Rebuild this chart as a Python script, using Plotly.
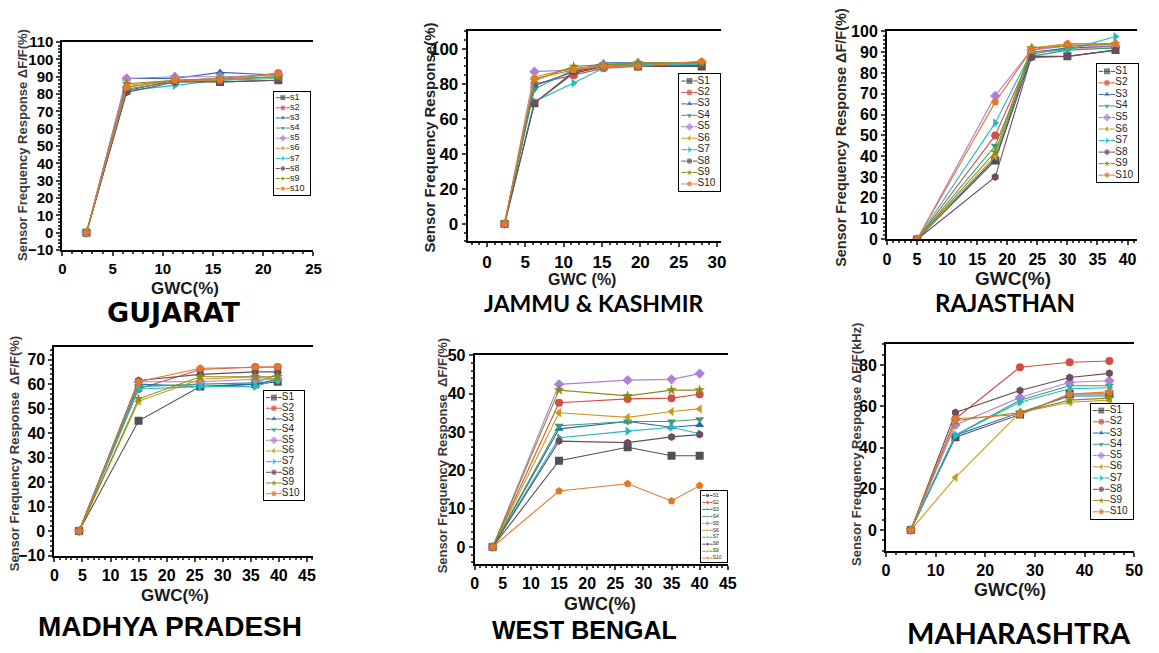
import plotly.graph_objects as go

W, H = 1159, 653

# ---------------------------------------------------------------- data
names_lower = ["s1", "s2", "s3", "s4", "s5", "s6", "s7", "s8", "s9", "s10"]
names_upper = ["S1", "S2", "S3", "S4", "S5", "S6", "S7", "S8", "S9", "S10"]

# Gujarat
guj_gwc = [2.4, 6.4, 11.2, 15.7, 21.5]
guj_resp = [
    [0, 82, 88, 87, 88],
    [0, 84, 88, 89, 92],
    [0, 89, 89, 92.5, 91],
    [0, 83, 87, 88, 90],
    [0, 89, 90, 90, 91],
    [0, 85, 88, 89, 90],
    [0, 82, 85, 88, 89],
    [0, 81, 87, 87, 88],
    [0, 86, 88, 89, 90],
    [0, 84, 88, 88, 92],
]

# Jammu & Kashmir
jk_gwc = [2.3, 6.2, 11.3, 15.2, 19.7, 28.0]
jk_resp = [
    [0, 69, 86, 90, 90, 90],
    [0, 80, 85, 89, 90, 92],
    [0, 79, 87, 92, 92, 91],
    [0, 77, 88, 91, 91, 91],
    [0, 87, 88, 91, 92, 92],
    [0, 84, 89, 90, 91, 92],
    [0, 70, 80.5, 89, 91, 91],
    [0, 69, 87, 90, 90, 90.5],
    [0, 82, 90, 91, 92, 92],
    [0, 83, 88, 90, 90, 93],
]

# Rajasthan
raj_gwc = [5, 18, 24, 30, 38]
raj_resp = [
    [0, 38, 88, 88, 91],
    [0, 50, 89, 92, 92],
    [0, 39, 90, 92, 93],
    [0, 45, 88, 91, 92],
    [0, 69, 91, 93, 93],
    [0, 40, 92, 94, 94],
    [0, 56, 90, 91, 97.5],
    [0, 30, 87.5, 88, 91],
    [0, 42, 92, 93, 94],
    [0, 66, 91, 94, 94],
]

# Madhya Pradesh
mp_gwc = [4.4, 15, 26, 35.8, 39.8]
mp_resp = [
    [0, 45, 59, 60, 61],
    [0, 58, 66, 67, 67],
    [0, 60, 59, 60, 62],
    [0, 59, 60, 60.5, 64],
    [0, 61, 61, 62, 62],
    [0, 53, 62, 63, 62],
    [0, 58, 59, 59, 62],
    [0, 61.5, 64, 65, 65],
    [0, 54, 63, 63, 63],
    [0, 61, 66.5, 67, 67],
]

# West Bengal
wb_gwc = [3.2, 15, 27.2, 35, 40]
wb_resp = [
    [0, 22.5, 26, 23.8, 23.8],
    [0, 37.6, 38.6, 38.8, 39.8],
    [0, 30.8, 32.7, 31.2, 31.8],
    [0, 31.6, 32.7, 32.7, 33.3],
    [0, 42.4, 43.5, 43.7, 45.2],
    [0, 35, 33.8, 35.3, 36],
    [0, 28.5, 30.2, 31.2, 29.5],
    [0, 27.6, 27.2, 28.7, 29.3],
    [0, 40.9, 39.4, 40.9, 40.9],
    [0, 14.6, 16.5, 12, 16],
]

# Maharashtra
mah_gwc = [5, 14, 27, 37, 45]
mah_resp = [
    [0, 45, 56, 66, 66],
    [0, 54, 79, 81.4, 82],
    [0, 46, 57, 65, 65],
    [0, 46, 63, 70, 70],
    [0, 51, 64.3, 71.7, 72.4],
    [0, 25.5, 57, 62, 63],
    [0, 46, 62, 68.5, 69],
    [0, 57, 67.7, 74, 76],
    [0, 53, 57, 63, 64],
    [0, 54, 56, 66, 67],
]

# ---------------------------------------------------------------- styles
colors = ["#505050", "#d24f47", "#2a66a8", "#3a9c74", "#b07fd6",
          "#c89b1c", "#22b9c2", "#6b4d5e", "#8c8c14", "#e2792a"]
symbols = ["square", "circle", "triangle-up", "triangle-down", "diamond",
           "triangle-left", "triangle-right", "hexagon", "star", "pentagon"]

SANS = "Liberation Sans"


def px_x(p):
    return p / W


def px_y(p):
    return 1 - p / H


panels = [
    dict(gwc=guj_gwc, resp=guj_resp, names=names_lower,
         box=(59, 313, 34, 248), xr=[0, 25], xd=5, yr=[-10, 110], yd=10, y0=-10,
         tick=15, leg=(273, 309, 85, 191), legfont=9, legmark=6,
         ytitle="Sensor Frequency Response \u0394F/F(%)", ytpos=(18, 140), ytsize=13,
         ytcolor="#3c3c3c",
         xtitle="GWC(%)", xtpos=(183, 287), xtsize=17,
         name="GUJARAT", npos=(172, 312), nfont="DejaVu Sans", nsize=27),
    dict(gwc=jk_gwc, resp=jk_resp, names=names_upper,
         box=(469, 725, 23, 239), xr=[-2.5, 30.5], xd=5, yr=[-10, 110], yd=20, y0=0,
         tick=17, leg=(683, 724, 67, 187), legfont=10, legmark=7,
         ytitle="Sensor Frequency Response(%)", ytpos=(430, 132), ytsize=15,
         ytcolor="#222222",
         xtitle="GWC (%)", xtpos=(585, 278), xtsize=16,
         name="JAMMU &amp; KASHMIR", npos=(597, 302), nfont="Lato", nsize=23),
    dict(gwc=raj_gwc, resp=raj_resp, names=names_upper,
         box=(893, 1146, 23, 237), xr=[0, 41.6], xd=5, yr=[0, 100], yd=10, y0=0,
         tick=16, leg=(1105, 1147, 57, 178), legfont=10, legmark=7,
         ytitle="Sensor Frequency Response \u0394F/F(%)", ytpos=(847, 132), ytsize=14.5,
         ytcolor="#2a2a2a",
         xtitle="GWC(%)", xtpos=(1020, 277), xtsize=19,
         name="RAJASTHAN", npos=(1012, 302), nfont="Lato", nsize=24),
    dict(gwc=mp_gwc, resp=mp_resp, names=names_upper,
         box=(51, 312, 348, 562), xr=[0, 46], xd=5, yr=[-10, 75], yd=10, y0=-10,
         tick=16, leg=(263, 303, 393, 505), legfont=10, legmark=7,
         ytitle="Sensor Frequency Response  \u0394F/F(%)", ytpos=(11, 457), ytsize=13,
         ytcolor="#3c3c3c",
         xtitle="GWC(%)", xtpos=(173, 603), xtsize=17,
         name="MADHYA PRADESH", npos=(168, 635), nfont=SANS, nsize=28),
    dict(gwc=wb_gwc, resp=wb_resp, names=names_upper,
         box=(476, 732, 356, 571), xr=[0, 45], xd=5, yr=[-4.5, 50], yd=10, y0=0,
         tick=16, leg=(705, 731, 496, 569), legfont=5, legmark=4,
         ytitle="Sensor Frequency Response  \u0394F/F(%)", ytpos=(443, 460), ytsize=13,
         ytcolor="#3c3c3c",
         xtitle="GWC(%)", xtpos=(603, 612), xtsize=18,
         name="WEST BENGAL", npos=(587, 639), nfont=SANS, nsize=25),
    dict(gwc=mah_gwc, resp=mah_resp, names=names_upper,
         box=(892, 1143, 345, 557), xr=[0, 50], xd=10, yr=[-10, 90], yd=20, y0=0,
         tick=16, leg=(1099, 1142, 406, 524), legfont=10, legmark=7,
         ytitle="Sensor Frequency Response \u0394F/F(kHz)", ytpos=(862, 448), ytsize=13,
         ytcolor="#3c3c3c",
         xtitle="GWC(%)", xtpos=(1017, 597), xtsize=18,
         name="MAHARASHTRA", npos=(1027, 641), nfont="Lato", nsize=29),
]

fig = go.Figure()
layout = dict(
    width=W, height=H, margin=dict(l=0, r=0, t=0, b=0),
    paper_bgcolor="white", plot_bgcolor="white", showlegend=False,
)
annotations = []

for k, p in enumerate(panels, start=1):
    h = k + 6
    x0, x1, y0, y1 = p["box"]
    sfx = "" if k == 1 else str(k)

    # data series
    for i, vals in enumerate(p["resp"]):
        fig.add_trace(go.Scatter(
            x=p["gwc"], y=vals, mode="lines+markers",
            line=dict(color=colors[i], width=1.1),
            marker=dict(symbol=symbols[i], size=8, color=colors[i]),
            xaxis=f"x{sfx}", yaxis=f"y{sfx}", name=p["names"][i],
        ))

    tickfont = dict(family=SANS, size=p["tick"], color="black", weight="bold")
    layout[f"xaxis{sfx}"] = dict(
        domain=[px_x(x0), px_x(x1)], range=p["xr"], anchor=f"y{sfx}",
        tick0=0, dtick=p["xd"], ticks="outside", ticklen=4, tickwidth=1.5,
        showline=True, linecolor="black", linewidth=2, mirror=True,
        showgrid=False, zeroline=False, tickfont=tickfont,
        minor=dict(ticks="outside", ticklen=2, showgrid=False),
    )
    layout[f"yaxis{sfx}"] = dict(
        domain=[px_y(y1), px_y(y0)], range=p["yr"], anchor=f"x{sfx}",
        tick0=p["y0"], dtick=p["yd"], ticks="outside", ticklen=4, tickwidth=1.5,
        showline=True, linecolor="black", linewidth=2, mirror=False,
        showgrid=False, zeroline=False, tickfont=tickfont,
        minor=dict(ticks="outside", ticklen=2, showgrid=False),
    )

    # boxed series key
    lx0, lx1, ly0, ly1 = p["leg"]
    for i in range(len(p["resp"])):
        fig.add_trace(go.Scatter(
            x=[0.05, 0.25, 0.45], y=[i + 1] * 3, mode="lines+markers+text",
            line=dict(color=colors[i], width=1),
            marker=dict(symbol=symbols[i], size=[0, p["legmark"], 0],
                        color=colors[i]),
            text=["", "", p["names"][i]], textposition="middle right",
            textfont=dict(family=SANS, size=p["legfont"], color="#222222"),
            xaxis=f"x{h}", yaxis=f"y{h}", hoverinfo="skip",
        ))
    layout[f"xaxis{h}"] = dict(
        domain=[px_x(lx0), px_x(lx1)], range=[0, 1], anchor=f"y{h}",
        showline=True, mirror=True, linecolor="black", linewidth=1.2,
        showticklabels=False, ticks="", showgrid=False, zeroline=False,
    )
    layout[f"yaxis{h}"] = dict(
        domain=[px_y(ly1), px_y(ly0)], range=[10.6, 0.4], anchor=f"x{h}",
        showline=True, mirror=True, linecolor="black", linewidth=1.2,
        showticklabels=False, ticks="", showgrid=False, zeroline=False,
    )

    # titles
    annotations.append(dict(
        text=p["ytitle"], xref="paper", yref="paper",
        x=px_x(p["ytpos"][0]), y=px_y(p["ytpos"][1]), textangle=-90,
        showarrow=False, xanchor="center", yanchor="middle",
        font=dict(family=SANS, size=p["ytsize"], color=p["ytcolor"], weight="bold"),
    ))
    annotations.append(dict(
        text=p["xtitle"], xref="paper", yref="paper",
        x=px_x(p["xtpos"][0]), y=px_y(p["xtpos"][1]),
        showarrow=False, xanchor="center", yanchor="middle",
        font=dict(family=SANS, size=p["xtsize"], color="#1a1a1a", weight="bold"),
    ))
    annotations.append(dict(
        text=p["name"], xref="paper", yref="paper",
        x=px_x(p["npos"][0]), y=px_y(p["npos"][1]),
        showarrow=False, xanchor="center", yanchor="middle",
        font=dict(family=p["nfont"], size=p["nsize"], color="black", weight="bold"),
    ))

layout["annotations"] = annotations
fig.update_layout(**layout)
fig.write_html("out.html")
